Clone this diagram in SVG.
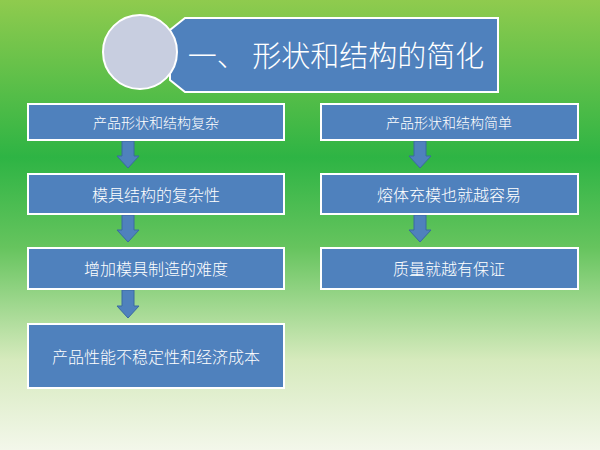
<svg xmlns="http://www.w3.org/2000/svg" width="600" height="450" viewBox="0 0 600 450">
<defs>
<linearGradient id="bg" x1="0" y1="0" x2="0" y2="1">
<stop offset="0" stop-color="#8fcb4e"/>
<stop offset="0.35" stop-color="#2eb444"/>
<stop offset="0.55" stop-color="#66c45e"/>
<stop offset="0.8" stop-color="#d6eabd"/>
<stop offset="1" stop-color="#f3f7ea"/>
</linearGradient>
<style>
.box{fill:#4f81bd;stroke:#fff;stroke-width:2}
.t{fill:#fff;font-family:"Noto Sans CJK SC",sans-serif;font-weight:300;text-anchor:middle;dominant-baseline:central}
.arr{fill:#4f81bd;stroke:#3a6aa0;stroke-width:1}
</style>
</defs>
<rect width="600" height="450" fill="url(#bg)"/>
<g id="title">
<path class="box" d="M185 18 H498 V92 H185 L170 80 V30 Z"/>
<circle cx="140" cy="52" r="37" fill="#c8cee0" stroke="#fff" stroke-width="2"/>
<text class="t" x="336" y="54" font-size="29">一、 形状和结构的简化</text>
</g>
<g id="connectors">
<path class="arr" d="M122 141 H134 V156 H139 L128 168 L117 156 H122 Z"/>
<path class="arr" d="M122 215 H134 V230 H139 L128 242 L117 230 H122 Z"/>
<path class="arr" d="M122 290 H134 V306 H139 L128 318 L117 306 H122 Z"/>
<path class="arr" d="M414 141 H426 V156 H431 L420 168 L409 156 H414 Z"/>
<path class="arr" d="M414 215 H426 V230 H431 L420 242 L409 230 H414 Z"/>
</g>
<g id="l1"><rect class="box" x="28" y="104" width="256" height="36"/><text class="t" x="156" y="122" font-size="14">产品形状和结构复杂</text></g>
<g id="l2"><rect class="box" x="28" y="174" width="256" height="40"/><text class="t" x="156" y="194" font-size="16">模具结构的复杂性</text></g>
<g id="l3"><rect class="box" x="28" y="248" width="256" height="41"/><text class="t" x="156" y="268" font-size="16">增加模具制造的难度</text></g>
<g id="l4"><rect class="box" x="28" y="324" width="256" height="64"/><text class="t" x="156" y="356" font-size="16">产品性能不稳定性和经济成本</text></g>
<g id="r1"><rect class="box" x="321" y="104" width="257" height="36"/><text class="t" x="449" y="122" font-size="14">产品形状和结构简单</text></g>
<g id="r2"><rect class="box" x="321" y="174" width="257" height="40"/><text class="t" x="449" y="194" font-size="16">熔体充模也就越容易</text></g>
<g id="r3"><rect class="box" x="321" y="248" width="257" height="41"/><text class="t" x="449" y="268" font-size="16">质量就越有保证</text></g>
</svg>
